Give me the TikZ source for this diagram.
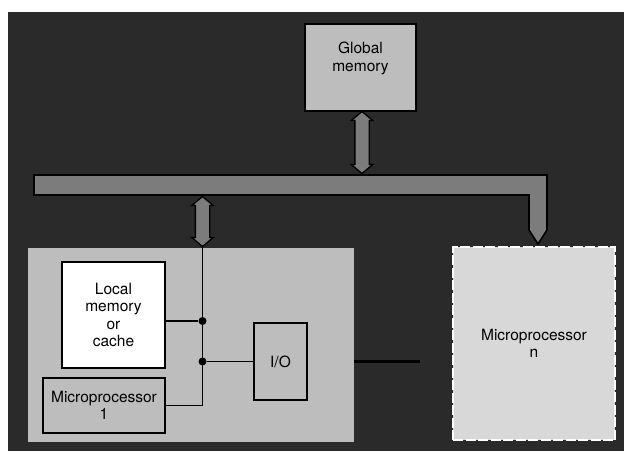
\documentclass[tikz,border=0pt]{standalone}
\usepackage{fontspec}
\setmainfont{TeX Gyre Heros}
\usetikzlibrary{shapes.arrows}

\definecolor{panel}{HTML}{2A2A2A}
\definecolor{busgray}{HTML}{7C7C7C}
\definecolor{boxgray}{HTML}{BDBDBD}
\definecolor{remotegray}{HTML}{D8D8D8}

\tikzset{
  unit/.style={draw=black, line width=1.7pt, fill=boxgray, inner sep=0pt,
    align=center, font=\fontsize{15.5}{17.3}\selectfont},
  link/.style={line width=1.8pt, black},
  junction/.style={circle, fill=black, inner sep=0pt, minimum size=8pt},
  busport/.style={double arrow, draw=black, line width=1.3pt, fill=busgray,
    shape border rotate=90, inner sep=6.5pt, double arrow head extend=3.5pt,
    double arrow tip angle=100}
}

\begin{document}
\begin{tikzpicture}[x=1pt, y=-1pt]
  \useasboundingbox (0,0) rectangle (624,451);
  \fill[white] (0,0) rectangle (624,451);
  \fill[panel] (8,12) rectangle (624,451);
  % Shared bus, bent down to the far processor
  \draw[black, line width=1.6pt, fill=busgray]
    (34,175) -- (547,175) -- (547,230) -- (538,244) -- (529,230)
    -- (529,195) -- (34,195) -- cycle;
  % Global memory and its port
  \node[unit, minimum width=111pt, minimum height=87pt,
    label={[anchor=north, yshift=-19pt, inner sep=0pt, align=center,
      font=\fontsize{15.5}{17.3}\selectfont]north:Global\\memory}]
    (gmem) at (360.5,67.5) {};
  \node[busport, minimum height=62pt] (gport) at (362,142.5) {};
  % Processor node 1
  \node[fill=boxgray, minimum width=326pt, minimum height=194pt, inner sep=0pt]
    (node1) at (191,345) {};
  \node[busport, minimum height=50pt] (lport) at (202.5,221.5) {};
  \node[unit, fill=white, minimum width=103pt, minimum height=106pt]
    (lmem) at (113.5,315) {Local\\memory\\or\\cache};
  \node[unit, minimum width=122pt, minimum height=55pt]
    (mp1) at (104,405.5) {Microprocessor\\1};
  \node[unit, minimum width=53pt, minimum height=77pt]
    (io) at (280.5,361.5) {I/O};
  % Local bus
  \draw[link] (lport.south) |- (mp1.east);
  \node[junction] (jmem) at (202.5,321) {};
  \node[junction] (jio) at (lport.south |- io.west) {};
  \draw[link] (jmem) -- (jmem -| lmem.east);
  \draw[link] (jio) -- (io.west);
  \coordinate (ioout) at (420,361.5);
  \draw[line width=2.4pt, black] (io.west -| node1.east) -- (ioout);
  % Processor node n
  \node[unit, fill=remotegray, draw=white, line width=2.6pt,
    dash pattern=on 10pt off 2.5pt, minimum width=162pt, minimum height=193pt]
    (mpn) at (534,343.5) {Microprocessor\\n};
\end{tikzpicture}
\end{document}
